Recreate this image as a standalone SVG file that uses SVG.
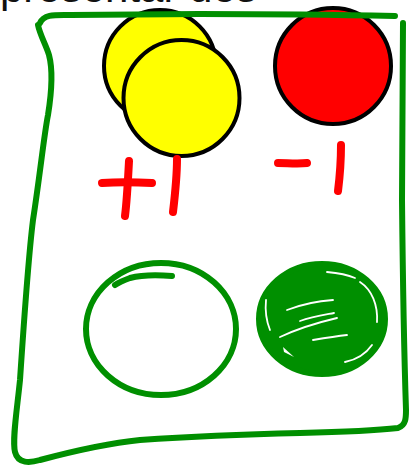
<svg xmlns="http://www.w3.org/2000/svg" width="413" height="469" viewBox="0 0 413 469">
<style>
.g{fill:none;stroke:#008f00;stroke-width:6;stroke-linecap:round;stroke-linejoin:round}
.r{fill:none;stroke:#ff0000;stroke-width:8;stroke-linecap:round;stroke-linejoin:round}
.coin{stroke:#000;stroke-width:4}
.gap{fill:none;stroke:#fff;stroke-width:1.8;stroke-linecap:round}
</style>
<rect width="413" height="469" fill="#fff"/>
<text x="0" y="2" font-family="Liberation Sans, Arial, sans-serif" font-size="42" fill="#111">presentar des</text>
<g id="coin-yellow-back"><circle class="coin" cx="160" cy="66" r="56" fill="#ffff00"/></g>
<g id="coin-red"><circle class="coin" cx="333" cy="66" r="58" fill="#ff0000"/></g>
<g id="frame">
<path class="g" d="M40,23 C44,14 55,15 70,15 L200,14 C280,14 350,15 395,16"/>
<path class="g" d="M38,25 C40,35 46,45 49,55 C53,70 52,90 48,115 C44,135 40,175 33,220 C28,260 24,320 20,380 C17,410 12,440 15,452 C18,464 30,463 40,460 C70,452 110,443 140,440 C200,436 260,434 300,433 C340,432 380,430 398,428 C406,425 406,418 406,410 C405,380 403,300 402,200 C402,120 403,60 403,23"/>
</g>
<g id="coin-yellow-front"><circle class="coin" cx="181.5" cy="98" r="58" fill="#ffff00"/></g>
<g id="label-plus1">
<path class="r" d="M102,183 C115,182 135,182 152,183"/>
<path class="r" d="M129,161 C128,180 127,200 125,216"/>
<path class="r" d="M177,159 C177,175 175,195 173,212"/>
</g>
<g id="label-minus1">
<path class="r" d="M278,163 C287,163 298,164 307,163"/>
<path class="r" d="M341,145 C341,160 340,175 338,191"/>
</g>
<g id="circle-empty">
<ellipse class="g" cx="161" cy="329" rx="75" ry="66"/>
<path class="g" d="M172,276 C160,275 145,274 130,278 C122,281 118,283 115,285"/>
</g>
<g id="circle-filled">
<ellipse cx="322" cy="319" rx="63" ry="55" fill="#008f00" stroke="#008f00" stroke-width="6"/>
<path class="gap" d="M287,310 C300,305 318,301 333,300"/>
<path class="gap" d="M280,337 C295,330 320,322 337,318"/>
<path class="gap" d="M313,340 C325,338 338,336 347,335"/>
<path class="gap" d="M327,272 C338,273 348,275 355,278"/>
<path class="gap" d="M300,321 C312,317 324,315 334,313"/>
<path class="gap" d="M360,282 C372,290 378,305 377,322"/>
<path class="gap" d="M372,345 C365,355 355,360 345,362"/>
<path d="M283,347 L294,357 L284,352 Z" fill="#fff"/>
<path class="gap" d="M266,300 C265,310 266,320 270,330"/>
</g>
</svg>
